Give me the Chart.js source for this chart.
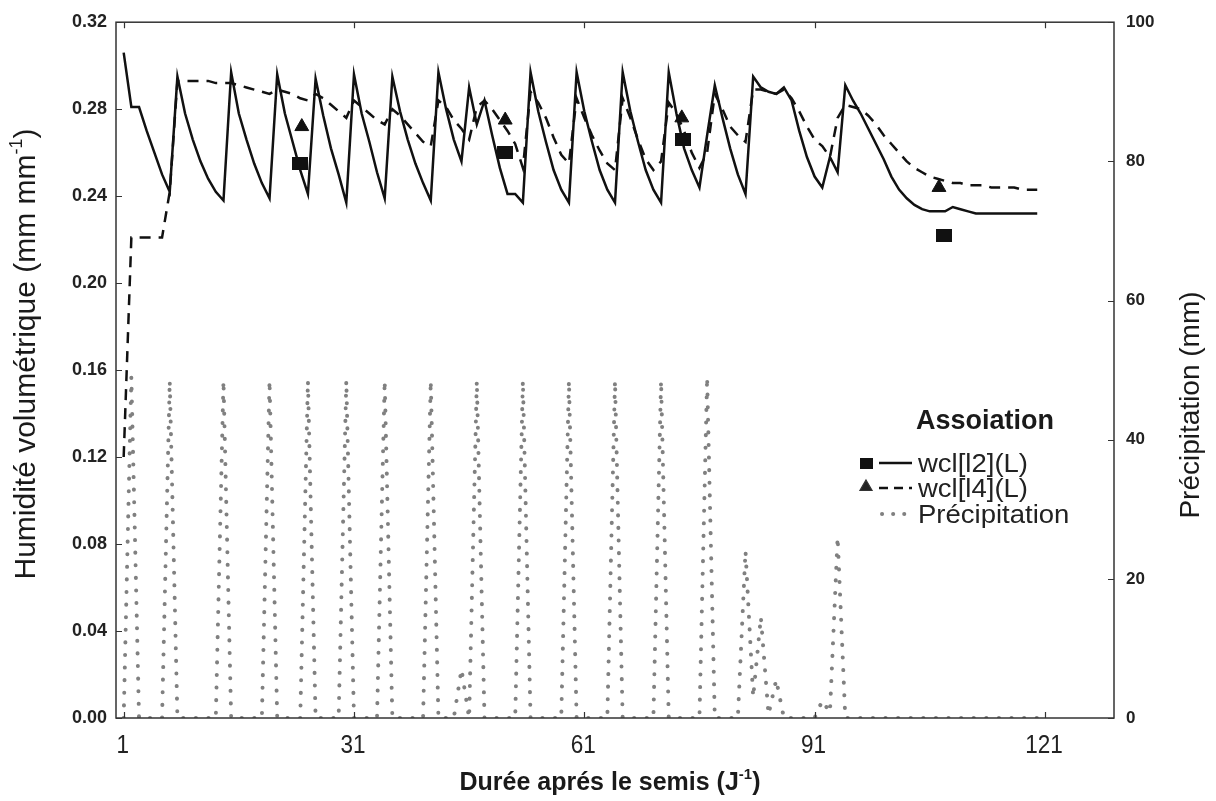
<!DOCTYPE html>
<html>
<head>
<meta charset="utf-8">
<script src="https://cdn.jsdelivr.net/npm/chart.js@4.4.1/dist/chart.umd.min.js"></script>
<style>
  html, body { margin: 0; padding: 0; background: #fff; }
  #wrap { width: 1216px; height: 801px; position: relative; }
</style>
</head>
<body>
<div id="wrap"><canvas id="chart"></canvas></div>
<script>
// daily series, day 1 .. 120 (precipitation to day 121)
const firstDay = 1;

const wclL2 = [
  0.306, 0.281, 0.281, 0.270, 0.260, 0.250, 0.242, 0.295, 0.278, 0.266,
  0.256, 0.248, 0.242, 0.238, 0.297, 0.278, 0.266, 0.255, 0.246, 0.239,
  0.296, 0.278, 0.265, 0.252, 0.241, 0.294, 0.277, 0.262, 0.250, 0.237,
  0.296, 0.278, 0.265, 0.251, 0.239, 0.295, 0.279, 0.266, 0.255, 0.246,
  0.238, 0.297, 0.280, 0.266, 0.256, 0.290, 0.273, 0.284, 0.268, 0.253,
  0.241, 0.241, 0.237, 0.297, 0.279, 0.265, 0.252, 0.243, 0.237, 0.297,
  0.279, 0.265, 0.252, 0.243, 0.237, 0.297, 0.279, 0.265, 0.252, 0.243,
  0.237, 0.297, 0.278, 0.262, 0.252, 0.244, 0.268, 0.291, 0.276, 0.262,
  0.250, 0.241, 0.295, 0.290, 0.288, 0.287, 0.290, 0.284, 0.270, 0.258,
  0.249, 0.244, 0.258, 0.251, 0.291, 0.284, 0.278, 0.271, 0.264, 0.257,
  0.249, 0.243, 0.239, 0.236, 0.234, 0.233, 0.233, 0.233, 0.235, 0.234,
  0.233, 0.232, 0.232, 0.232, 0.232, 0.232, 0.232, 0.232, 0.232, 0.232
];

const wclL4 = [
  0.120, 0.221, 0.221, 0.221, 0.221, 0.221, 0.242, 0.293, 0.293, 0.293,
  0.293, 0.293, 0.292, 0.292, 0.292, 0.291, 0.290, 0.289, 0.288, 0.287,
  0.289, 0.288, 0.287, 0.285, 0.284, 0.287, 0.285, 0.282, 0.279, 0.276,
  0.284, 0.281, 0.278, 0.275, 0.273, 0.280, 0.277, 0.273, 0.269, 0.265,
  0.263, 0.284, 0.281, 0.275, 0.271, 0.266, 0.281, 0.284, 0.280, 0.275,
  0.270, 0.264, 0.253, 0.288, 0.283, 0.276, 0.267, 0.259, 0.255, 0.285,
  0.276, 0.268, 0.261, 0.255, 0.252, 0.285, 0.276, 0.266, 0.257, 0.252,
  0.256, 0.283, 0.278, 0.270, 0.260, 0.253, 0.260, 0.287, 0.280, 0.272,
  0.268, 0.265, 0.289, 0.289, 0.288, 0.287, 0.289, 0.285, 0.279, 0.272,
  0.266, 0.263, 0.258, 0.276, 0.282, 0.281, 0.280, 0.277, 0.273, 0.268,
  0.264, 0.260, 0.256, 0.253, 0.251, 0.249, 0.248, 0.247, 0.246, 0.246,
  0.245, 0.245, 0.245, 0.244, 0.244, 0.244, 0.244, 0.243, 0.243, 0.243
];

const precip = [
  0, 49, 0, 0, 0, 0, 48.5, 0, 0, 0,
  0, 0, 0, 48.5, 0, 0, 0, 0, 0, 48.5,
  0, 0, 0, 0, 48.5, 0, 0, 0, 0, 48.5,
  0, 0, 0, 0, 48.5, 0, 0, 0, 0, 0,
  48.5, 0, 0, 0, 7, 0, 48.5, 0, 0, 0,
  0, 0, 48.5, 0, 0, 0, 0, 0, 48.5, 0,
  0, 0, 0, 0, 48.5, 0, 0, 0, 0, 0,
  48.5, 0, 0, 0, 0, 0, 49, 0, 0, 0,
  0, 24, 3, 14.5, 0.5, 5.5, 0, 0, 0, 0,
  0, 2.5, 0.8, 26, 0, 0, 0, 0, 0, 0,
  0, 0, 0, 0, 0, 0, 0, 0, 0, 0,
  0, 0, 0, 0, 0, 0, 0, 0, 0, 0,
  0
];

// measured points
const obsDaysL2 = [24, 50.7, 73.8, 107.8];
const obsL2 = [0.255, 0.260, 0.266, 0.222];
const obsDaysL4 = [24.2, 50.7, 73.7, 107.2];
const obsL4 = [0.272, 0.275, 0.276, 0.244];

const xTicks = [1, 31, 61, 91, 121];
const yTicks = [0, 0.04, 0.08, 0.12, 0.16, 0.20, 0.24, 0.28, 0.32];
const y2Ticks = [0, 20, 40, 60, 80, 100];

const FONT = "'Liberation Sans', Arial, sans-serif";
const INK = '#1a1a1a';

function toPoints(values) {
  return values.map((v, i) => ({ x: firstDay + i, y: v }));
}
function pairPoints(xs, ys) {
  return xs.map((x, i) => ({ x: x, y: ys[i] }));
}

// filled marker sprite (square drawn a little wider than tall)
function boxSprite(w, h) {
  const c = document.createElement('canvas');
  c.width = w; c.height = h;
  const g = c.getContext('2d');
  g.fillStyle = '#111';
  g.fillRect(0, 0, w, h);
  return c;
}
const squareMark = boxSprite(16, 13);
const squareMarkSmall = boxSprite(13, 11);

// text with a horizontal stretch factor
function fillScaled(ctx, text, x, y, sx) {
  ctx.save();
  ctx.translate(x, y);
  ctx.scale(sx, 1);
  ctx.fillText(text, 0, 0);
  ctx.restore();
}

function drawWithSup(ctx, main, sup, tail, font, supFont, cx, cy, lift) {
  ctx.font = font;
  const w1 = ctx.measureText(main).width;
  const w3 = ctx.measureText(tail).width;
  ctx.font = supFont;
  const w2 = ctx.measureText(sup).width;
  let x = cx - (w1 + w2 + w3) / 2;
  ctx.textAlign = 'left';
  ctx.font = font;
  ctx.fillText(main, x, cy);
  x += w1;
  ctx.font = supFont;
  ctx.fillText(sup, x, cy - lift);
  x += w2;
  ctx.font = font;
  ctx.fillText(tail, x, cy);
}

// frame, inward ticks, x tick labels, axis titles and legend
const decorations = {
  id: 'decorations',
  afterDatasetsDraw(chart) {
    const ctx = chart.ctx;
    const a = chart.chartArea;
    const sx = chart.scales.x, sy = chart.scales.y, sy2 = chart.scales.y2;
    ctx.save();

    ctx.strokeStyle = '#333';
    ctx.lineWidth = 1.5;
    ctx.strokeRect(a.left, a.top, a.right - a.left, a.bottom - a.top);

    ctx.lineWidth = 1.2;
    ctx.beginPath();
    xTicks.forEach(t => {
      const px = Math.round(sx.getPixelForValue(t)) + 0.5;
      ctx.moveTo(px, a.bottom); ctx.lineTo(px, a.bottom - 6);
      ctx.moveTo(px, a.top); ctx.lineTo(px, a.top + 6);
    });
    yTicks.forEach(t => {
      const py = Math.round(sy.getPixelForValue(t)) + 0.5;
      ctx.moveTo(a.left, py); ctx.lineTo(a.left + 6, py);
    });
    y2Ticks.forEach(t => {
      const py = Math.round(sy2.getPixelForValue(t)) + 0.5;
      ctx.moveTo(a.right, py); ctx.lineTo(a.right - 6, py);
    });
    ctx.stroke();

    // x tick labels
    ctx.fillStyle = '#222';
    ctx.font = '25px ' + FONT;
    ctx.textAlign = 'center';
    ctx.textBaseline = 'alphabetic';
    xTicks.forEach(t => {
      fillScaled(ctx, String(t), sx.getPixelForValue(t) - 1, 753, 0.9);
    });

    ctx.fillStyle = INK;

    // x title with superscript
    drawWithSup(ctx, 'Durée aprés le semis (J', '-1', ')', 'bold 25px ' + FONT, 'bold 15px ' + FONT,
      610, 790, 11);

    // left title, rotated
    ctx.save();
    ctx.translate(35, 354);
    ctx.rotate(-Math.PI / 2);
    drawWithSup(ctx, 'Humidité volumétrique (mm mm', '-1', ')', '30px ' + FONT, '18px ' + FONT, 0, 0, 13);
    ctx.restore();

    // right title, rotated
    ctx.save();
    ctx.translate(1199, 405);
    ctx.rotate(-Math.PI / 2);
    ctx.font = '28px ' + FONT;
    ctx.textAlign = 'center';
    ctx.fillText('Précipitation (mm)', 0, 0);
    ctx.restore();

    // legend
    const lx = 866, lineX0 = 879, lineX1 = 912, textX = 918;
    ctx.font = 'bold 27px ' + FONT;
    ctx.textAlign = 'center';
    ctx.fillText('Assoiation', 985, 429);

    const rows = [
      { y: 463, label: 'wcl[l2](L)', ds: 1, marker: 'square' },
      { y: 488, label: 'wcl[l4](L)', ds: 2, marker: 'triangle' },
      { y: 514, label: 'Précipitation', ds: 0, marker: null }
    ];
    rows.forEach(r => {
      const ds = chart.data.datasets[r.ds];
      if (r.marker === 'square') {
        ctx.drawImage(squareMarkSmall, lx - 6, r.y - 5);
      } else if (r.marker === 'triangle') {
        Chart.helpers.drawPoint(ctx, { pointStyle: 'triangle', radius: 7, borderWidth: 1 }, lx, r.y - 1);
      }
      ctx.save();
      ctx.strokeStyle = ds.borderColor;
      ctx.lineWidth = ds.borderWidth;
      ctx.lineCap = ds.borderCapStyle || 'butt';
      ctx.setLineDash(r.ds === 2 ? [9, 6] : (r.ds === 0 ? [0.1, 11] : []));
      ctx.beginPath();
      ctx.moveTo(lineX0 + (r.ds === 0 ? 3 : 0), r.y); ctx.lineTo(lineX1, r.y);
      ctx.stroke();
      ctx.restore();
      ctx.font = '25px ' + FONT;
      ctx.textAlign = 'left';
      ctx.fillStyle = '#222';
      fillScaled(ctx, r.label, textX, r.y + 9, 1.1);
    });

    ctx.restore();
  }
};

new Chart(document.getElementById('chart'), {
  type: 'line',
  data: {
    datasets: [
      {
        label: 'Précipitation',
        data: toPoints(precip),
        yAxisID: 'y2',
        borderColor: '#808080',
        borderWidth: 4,
        borderDash: [0.1, 12.5],
        borderCapStyle: 'round',
        pointRadius: 0,
        tension: 0,
        order: 4
      },
      {
        label: 'wcl[l2](L)',
        data: toPoints(wclL2),
        yAxisID: 'y',
        borderColor: '#111',
        borderWidth: 2.5,
        pointRadius: 0,
        tension: 0,
        order: 2
      },
      {
        label: 'wcl[l4](L)',
        data: toPoints(wclL4),
        yAxisID: 'y',
        borderColor: '#111',
        borderWidth: 2.5,
        borderDash: [11, 8],
        pointRadius: 0,
        tension: 0,
        order: 3
      },
      {
        label: 'obs l2',
        type: 'scatter',
        data: pairPoints(obsDaysL2, obsL2),
        yAxisID: 'y',
        pointStyle: squareMark,
        pointRadius: 8,
        backgroundColor: '#111',
        borderColor: '#111',
        showLine: false,
        order: 0
      },
      {
        label: 'obs l4',
        type: 'scatter',
        data: pairPoints(obsDaysL4, obsL4),
        yAxisID: 'y',
        pointStyle: 'triangle',
        pointRadius: 8,
        backgroundColor: '#111',
        borderColor: '#111',
        showLine: false,
        order: 0
      }
    ]
  },
  options: {
    responsive: true,
    maintainAspectRatio: false,
    animation: false,
    layout: { padding: { top: 22, left: 0, right: 0, bottom: 0 } },
    plugins: {
      legend: { display: false },
      tooltip: { enabled: false }
    },
    scales: {
      x: {
        type: 'linear',
        min: 0,
        max: 130,
        afterBuildTicks: s => { s.ticks = xTicks.map(v => ({ value: v })); },
        afterFit: s => { s.height = 83; },
        grid: { display: false, drawTicks: false },
        border: { display: false },
        ticks: { display: false }
      },
      y: {
        position: 'left',
        min: 0,
        max: 0.32,
        afterBuildTicks: s => { s.ticks = yTicks.map(v => ({ value: v })); },
        afterFit: s => { s.width = 116; },
        grid: { display: false, drawTicks: false },
        border: { display: false },
        ticks: {
          padding: 9,
          color: '#222',
          font: { family: FONT, size: 18, weight: 'bold' },
          callback: v => v.toFixed(2)
        }
      },
      y2: {
        position: 'right',
        min: 0,
        max: 100,
        afterBuildTicks: s => { s.ticks = y2Ticks.map(v => ({ value: v })); },
        afterFit: s => { s.width = 102; },
        grid: { display: false, drawTicks: false },
        border: { display: false },
        ticks: {
          padding: 12,
          color: '#222',
          font: { family: FONT, size: 17, weight: 'bold' }
        }
      }
    }
  },
  plugins: [decorations]
});
</script>
</body>
</html>
